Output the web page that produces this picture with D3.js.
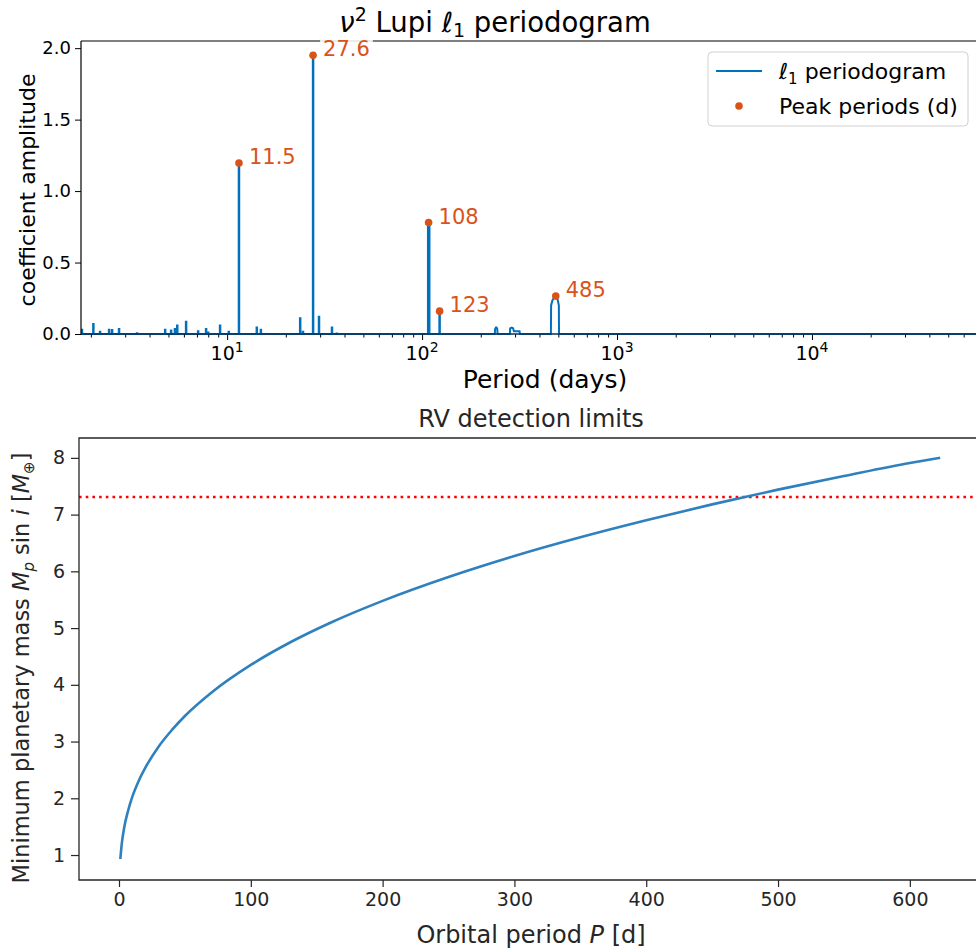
<!DOCTYPE html>
<html>
<head>
<meta charset="utf-8">
<title>nu2 Lupi periodogram</title>
<script src="https://cdn.jsdelivr.net/npm/d3@7"></script>
<style>
  body { margin: 0; background: #fff; }
  text { font-family: "DejaVu Sans", sans-serif; }
</style>
</head>
<body>
<svg id="fig" width="976" height="951"></svg>
<script>
// ---- top panel: l1 periodogram ----
const spikePeriods = [1.8, 2.06, 2.23, 2.48, 2.57, 2.79, 3.45, 4.81, 5.16, 5.4, 5.55, 6.16, 7.1, 7.8, 8.0, 9.2, 10.2,
                      11.5, 14.2, 14.9, 23.7, 24.5, 27.6, 29.6, 34.5, 36.5, 107.5, 108.8, 123]
const spikeAmps    = [0.03, 0.07, 0.015, 0.03, 0.028, 0.035, 0.005, 0.03, 0.025, 0.035, 0.06, 0.085, 0.02, 0.035, 0.01, 0.06, 0.015,
                      1.196, 0.045, 0.03, 0.11, 0.015, 1.95, 0.12, 0.045, 0.004, 0.78, 0.76, 0.16]
// wider hollow humps
const humpPeriods = [
  [236, 237, 239, 241, 243, 244],
  [282, 283, 288, 293, 295, 296, 316, 318],
  [458, 459, 466, 476, 485, 495, 503, 504]
]
const humpAmps = [
  [0, 0.035, 0.045, 0.045, 0.035, 0],
  [0, 0.04, 0.045, 0.04, 0.025, 0.02, 0.02, 0],
  [0, 0.2, 0.235, 0.255, 0.265, 0.245, 0.2, 0]
]
const peakPeriods = [11.5, 27.6, 108, 123, 485]
const peakAmps    = [1.196, 1.95, 0.78, 0.16, 0.265]
const peakLabels  = ["11.5", "27.6", "108", "123", "485"]
const ampTicks = [0, 0.5, 1.0, 1.5, 2.0]
const decadeTicks = [10, 100, 1000, 10000]

// ---- bottom panel: RV detection limits ----
const orbitPeriods = [1, 2, 4, 7, 10, 15, 20, 30, 40, 50, 70, 100, 130, 160, 200, 250, 300, 350, 400, 450, 500, 550, 600, 623]
const minMass      = [0.93, 1.18, 1.49, 1.79, 2.02, 2.31, 2.54, 2.91, 3.20, 3.45, 3.86, 4.35, 4.75, 5.09, 5.48, 5.90, 6.27, 6.60, 6.90, 7.18, 7.44, 7.68, 7.91, 8.00]
const massLimit = 7.31
const periodTicks = [0, 100, 200, 300, 400, 500, 600]
const massTicks = [1, 2, 3, 4, 5, 6, 7, 8]

const blue = "#0072BD", orange = "#D95319"
const svg = d3.select("#fig")

// ================= TOP =================
const pA = { left: 81, right: 976, top: 41, bottom: 334 }
const x1 = d3.scaleLog().domain([1.78, 69400]).range([pA.left, pA.right])
const y1 = d3.scaleLinear().domain([0, 2.05]).range([pA.bottom, pA.top])

svg.append("clipPath").attr("id", "clipTop").append("rect")
  .attr("x", pA.left).attr("y", pA.top - 2)
  .attr("width", pA.right - pA.left).attr("height", pA.bottom - pA.top + 4)

// build the periodogram polyline in data space
let pts = [[x1.domain()[0], 0]]
const items = []
spikePeriods.forEach((p, i) => items.push({ p: p, seg: [[p / 1.003, 0], [p / 1.003, spikeAmps[i]], [p * 1.003, spikeAmps[i]], [p * 1.003, 0]] }))
humpPeriods.forEach((ps, k) => items.push({ p: ps[0], seg: ps.map((p, i) => [p, humpAmps[k][i]]) }))
items.sort((a, b) => a.p - b.p).forEach(it => { pts = pts.concat(it.seg) })
pts.push([x1.domain()[1], 0])

const line1 = d3.line().x(d => x1(d[0])).y(d => y1(d[1]))
svg.append("path").datum(pts)
  .attr("clip-path", "url(#clipTop)")
  .attr("d", line1)
  .attr("fill", "none").attr("stroke", blue).attr("stroke-width", 2)
  .attr("stroke-linejoin", "miter")

// axes
const xAx1 = svg.append("g").attr("transform", `translate(0,${pA.bottom})`)
  .call(d3.axisBottom(x1).tickValues(decadeTicks).tickFormat("").tickSize(6).tickSizeOuter(0))
let minor = []
for (let e = 0; e < 5; e++) for (let m = 2; m < 10; m++) {
  const v = m * Math.pow(10, e)
  if (v > x1.domain()[0] && v < x1.domain()[1]) minor.push(v)
}
svg.append("g").attr("transform", `translate(0,${pA.bottom})`)
  .call(d3.axisBottom(x1).tickValues(minor).tickFormat("").tickSize(3.5).tickSizeOuter(0))
  .call(g => g.select(".domain").remove())
xAx1.select(".domain").remove()
decadeTicks.forEach(v => {
  const t = svg.append("text").attr("x", x1(v)).attr("y", 360)
    .attr("text-anchor", "middle").attr("font-size", 19).attr("fill", "#000")
  t.append("tspan").text("10")
  t.append("tspan").attr("dy", -8).attr("font-size", 14).text(Math.log10(v))
})

svg.append("g").attr("transform", `translate(${pA.left},0)`)
  .call(d3.axisLeft(y1).tickValues(ampTicks).tickFormat(d3.format(".1f")).tickSize(6).tickPadding(4).tickSizeOuter(0))
  .call(g => g.select(".domain").remove())
  .call(g => g.selectAll("text").attr("font-size", 18).attr("fill", "#000").style("font-family", "DejaVu Sans"))

// spines
svg.append("line").attr("x1", pA.left).attr("x2", pA.right + 2).attr("y1", pA.top).attr("y2", pA.top)
  .attr("stroke", "#000").attr("stroke-width", 1.2)
svg.append("line").attr("x1", pA.left).attr("x2", pA.left).attr("y1", pA.top).attr("y2", pA.bottom)
  .attr("stroke", "#000").attr("stroke-width", 1.2)
svg.append("line").attr("x1", pA.left).attr("x2", pA.right + 2).attr("y1", pA.bottom).attr("y2", pA.bottom)
  .attr("stroke", "#0b2f55").attr("stroke-width", 1.6)

// peaks with white-boxed labels
peakPeriods.forEach((p, i) => {
  const cx = x1(p), cy = y1(peakAmps[i])
  const bg = svg.append("rect")
  const lbl = svg.append("text").attr("x", cx + 10).attr("y", cy + 1)
    .attr("font-size", 21).attr("fill", orange).text(peakLabels[i])
  const bb = lbl.node().getBBox()
  bg.attr("x", bb.x - 3).attr("y", bb.y + 2).attr("width", bb.width + 6).attr("height", bb.height - 4)
    .attr("fill", "#fff").attr("opacity", 0.85)
  svg.append("circle").attr("cx", cx).attr("cy", cy).attr("r", 3.8).attr("fill", orange)
})

// title and labels
const title = svg.append("text").attr("x", 495).attr("y", 32).attr("text-anchor", "middle")
  .attr("font-size", 27.5).attr("fill", "#000")
title.append("tspan").attr("font-style", "italic").text("ν")
title.append("tspan").attr("dy", -11).attr("font-size", 19).text("2")
title.append("tspan").attr("dy", 11).text(" Lupi ")
title.append("tspan").attr("font-style", "italic").text("ℓ")
title.append("tspan").attr("dy", 5).attr("font-size", 19).text("1")
title.append("tspan").attr("dy", -5).text(" periodogram")

svg.append("text").attr("x", 545).attr("y", 388).attr("text-anchor", "middle")
  .attr("font-size", 25).attr("fill", "#000").text("Period (days)")
svg.append("text").attr("transform", "translate(35,190) rotate(-90)").attr("text-anchor", "middle")
  .attr("font-size", 22).attr("fill", "#000").text("coefficient amplitude")

// legend
const lg = svg.append("g")
lg.append("rect").attr("x", 708).attr("y", 52).attr("width", 260).attr("height", 74).attr("rx", 4)
  .attr("fill", "#fff").attr("fill-opacity", 0.8).attr("stroke", "#d0d0d0")
lg.append("line").attr("x1", 716).attr("x2", 762).attr("y1", 71).attr("y2", 71)
  .attr("stroke", blue).attr("stroke-width", 2)
const lt = lg.append("text").attr("x", 779).attr("y", 79).attr("font-size", 22).attr("fill", "#000")
lt.append("tspan").attr("font-style", "italic").text("ℓ")
lt.append("tspan").attr("dy", 5).attr("font-size", 15).text("1")
lt.append("tspan").attr("dy", -5).text(" periodogram")
lg.append("circle").attr("cx", 739).attr("cy", 106).attr("r", 3.8).attr("fill", orange)
lg.append("text").attr("x", 779).attr("y", 114).attr("font-size", 22).attr("fill", "#000").text("Peak periods (d)")

// ================= BOTTOM =================
const ink = "#262626"
const pB = { left: 79, right: 983, top: 438, bottom: 880 }
const x2 = d3.scaleLinear().domain([-30.35, 655.5]).range([pB.left, pB.right])
const y2 = d3.scaleLinear().domain([0.56, 8.35]).range([pB.bottom, pB.top])

svg.append("g").attr("transform", `translate(0,${pB.bottom})`)
  .call(d3.axisBottom(x2).tickValues(periodTicks).tickSize(7).tickPadding(6).tickSizeOuter(0))
  .call(g => g.select(".domain").remove())
  .call(g => g.selectAll("line").attr("stroke", ink).attr("stroke-width", 1.2))
  .call(g => g.selectAll("text").attr("font-size", 19).attr("fill", ink).style("font-family", "DejaVu Sans"))
svg.append("g").attr("transform", `translate(${pB.left},0)`)
  .call(d3.axisLeft(y2).tickValues(massTicks).tickSize(8).tickPadding(6).tickSizeOuter(0))
  .call(g => g.select(".domain").remove())
  .call(g => g.selectAll("line").attr("stroke", ink).attr("stroke-width", 1.2))
  .call(g => g.selectAll("text").attr("font-size", 19).attr("fill", ink).style("font-family", "DejaVu Sans"))

svg.append("line").attr("x1", pB.left).attr("x2", 976).attr("y1", y2(massLimit)).attr("y2", y2(massLimit))
  .attr("stroke", "#ff0000").attr("stroke-width", 2.6).attr("stroke-dasharray", "2.6,4.1")

svg.append("path").datum(orbitPeriods.map((p, i) => [p, minMass[i]]))
  .attr("d", d3.line().x(d => x2(d[0])).y(d => y2(d[1])).curve(d3.curveMonotoneX))
  .attr("fill", "none").attr("stroke", "#2f80bf").attr("stroke-width", 2.6)

svg.append("path")
  .attr("d", `M${pB.right},${pB.top}H${pB.left}V${pB.bottom}H${pB.right}`)
  .attr("fill", "none").attr("stroke", ink).attr("stroke-width", 1.3)

svg.append("text").attr("x", 531).attr("y", 427).attr("text-anchor", "middle")
  .attr("font-size", 24).attr("fill", ink).text("RV detection limits")

const xl = svg.append("text").attr("x", 531).attr("y", 943).attr("text-anchor", "middle")
  .attr("font-size", 24).attr("fill", ink)
xl.append("tspan").text("Orbital period ")
xl.append("tspan").attr("font-style", "italic").text("P")
xl.append("tspan").text(" [d]")

const yl = svg.append("text").attr("transform", "translate(29,668) rotate(-90)").attr("text-anchor", "middle")
  .attr("font-size", 22.5).attr("fill", ink)
yl.append("tspan").text("Minimum planetary mass ")
yl.append("tspan").attr("font-style", "italic").text("M")
yl.append("tspan").attr("font-style", "italic").attr("dy", 5).attr("font-size", 15).text("p")
yl.append("tspan").attr("dy", -5).text(" sin ")
yl.append("tspan").attr("font-style", "italic").text("i")
yl.append("tspan").text(" [")
yl.append("tspan").attr("font-style", "italic").text("M")
yl.append("tspan").attr("dy", 5).attr("font-size", 15).text("⊕")
yl.append("tspan").attr("dy", -5).text("]")
</script>
</body>
</html>
